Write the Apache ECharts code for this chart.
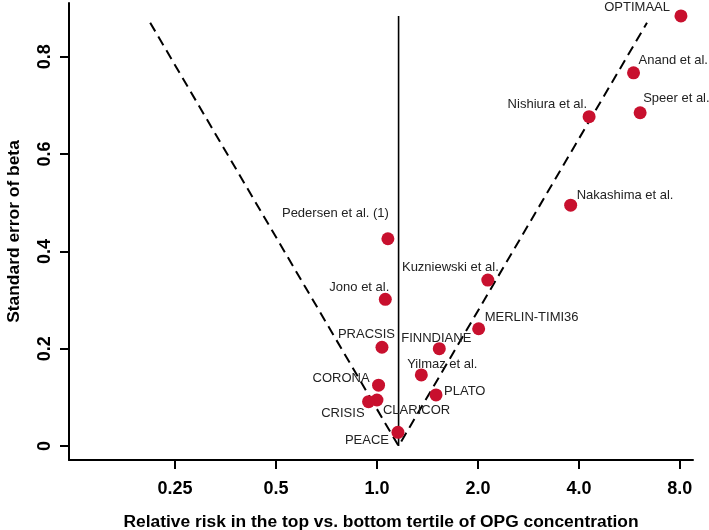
<!DOCTYPE html>
<html>
<head>
<meta charset="utf-8">
<script src="https://cdn.jsdelivr.net/npm/echarts@6/dist/echarts.min.js"></script>
<style>html,body{margin:0;padding:0;background:#fff}#c{width:709px;height:530px}</style>
</head>
<body>
<div id="c"></div>
<script>
// ---- data ----
var studies = ['OPTIMAAL','Anand et al.','Speer et al.','Nishiura et al.','Nakashima et al.',
  'Pedersen et al. (1)','Kuzniewski et al.','Jono et al.','MERLIN-TIMI36','PRACSIS','FINNDIANE',
  'Yilmaz et al.','CORONA','PLATO','CLARICOR','CRISIS','PEACE'];
var relativeRisk = [8.06, 5.82, 6.09, 4.29, 3.78, 1.078, 2.14, 1.059, 2.01, 1.035, 1.534, 1.356, 1.011, 1.50, 1.00, 0.944, 1.155];
var standardError = [0.884, 0.767, 0.685, 0.677, 0.495, 0.426, 0.341, 0.3015, 0.241, 0.203, 0.200, 0.146, 0.125, 0.105, 0.0945, 0.091, 0.028];
var pooledRR = 1.16;
var funnelMaxSE = 0.87;
var centerLineTopSE = 0.884;
var xTickValues = [0.25, 0.5, 1.0, 2.0, 4.0, 8.0];
var xTickLabels = ['0.25', '0.5', '1.0', '2.0', '4.0', '8.0'];
var yTickValues = [0, 0.2, 0.4, 0.6, 0.8];
var yTickLabels = ['0', '0.2', '0.4', '0.6', '0.8'];

// ---- label layout (offset from point centre, px) ----
var labelLayout = [
  [-11,-9,'right'], [5,-12,'left'], [3,-14,'left'], [-2,-12,'right'], [6,-10,'left'],
  [1,-25,'right'], [11,-13,'right'], [4,-12,'right'], [6,-11,'left'], [13,-13,'right'],
  [-3,-10,'center'], [21,-11,'center'], [-9,-7,'right'], [8,-3,'left'], [6,10,'left'],
  [-4,12,'right'], [-9,8,'right']
];

var FONT = '"Liberation Sans", Arial, Helvetica, sans-serif';
var SYM = 13;
var l2 = function (v) { return Math.log(v) / Math.LN2; };
var xTickPos = xTickValues.map(l2);
var labelMap = {};
xTickPos.forEach(function (p, i) { labelMap[p.toFixed(4)] = xTickLabels[i]; });
var yLabelMap = {};
yTickValues.forEach(function (v, i) { yLabelMap[v.toFixed(4)] = yTickLabels[i]; });

var c = l2(pooledRR);
var half = 1.96 * funnelMaxSE / Math.LN2;
var funnel = [[c - half, funnelMaxSE], [c, 0], [c + half, funnelMaxSE]];

var points = studies.map(function (s, i) {
  var L = labelLayout[i];
  return {
    name: s,
    value: [l2(relativeRisk[i]), standardError[i]],
    label: { show: true, position: [SYM / 2 + L[0], SYM / 2 + L[1]], align: L[2], verticalAlign: 'middle' }
  };
});

var chart = echarts.init(document.getElementById('c'), null, { renderer: 'canvas' });
chart.setOption({
  animation: false,
  backgroundColor: '#fff',
  grid: { left: 69, right: 16, top: 3, bottom: 70, containLabel: false, outerBoundsMode: 'none' },
  xAxis: {
    type: 'value', min: -3.05, max: 3.13,
    name: 'Relative risk in the top vs. bottom tertile of OPG concentration',
    nameLocation: 'middle', nameGap: 54,
    nameTextStyle: { fontFamily: FONT, fontWeight: 'bold', fontSize: 17.4, color: '#000' },
    axisLine: { show: true, onZero: false, lineStyle: { color: '#000', width: 2 } },
    axisTick: { show: true, length: 9, lineStyle: { color: '#000', width: 2 }, customValues: xTickPos },
    axisLabel: { fontFamily: FONT, fontWeight: 'bold', fontSize: 18, color: '#000', margin: 20,
      customValues: xTickPos,
      formatter: function (v) { return labelMap[v.toFixed(4)] || ''; } },
    splitLine: { show: false }
  },
  yAxis: {
    type: 'value', min: -0.0288, max: 0.9106,
    name: 'Standard error of beta',
    nameLocation: 'middle', nameGap: 46,
    nameTextStyle: { fontFamily: FONT, fontWeight: 'bold', fontSize: 17.4, color: '#000' },
    axisLine: { show: true, onZero: false, lineStyle: { color: '#000', width: 2 } },
    axisTick: { show: true, length: 9, lineStyle: { color: '#000', width: 2 }, customValues: yTickValues },
    axisLabel: { fontFamily: FONT, fontWeight: 'bold', fontSize: 18, color: '#000', margin: 15, rotate: 90,
      customValues: yTickValues,
      formatter: function (v) { return yLabelMap[v.toFixed(4)] || ''; } },
    splitLine: { show: false }
  },
  series: [
    {
      type: 'line', data: funnel, symbol: 'none', silent: true,
      lineStyle: { color: '#000', width: 2, type: [10, 6] }, z: 2
    },
    {
      type: 'line', data: [[c, 0], [c, centerLineTopSE]], symbol: 'none', silent: true,
      lineStyle: { color: '#000', width: 1.6 }, z: 2
    },
    {
      type: 'scatter', data: points, symbol: 'circle', symbolSize: SYM, z: 3,
      itemStyle: { color: '#C8102E', opacity: 1 },
      label: { show: true, formatter: '{b}', fontFamily: FONT, fontSize: 13, color: '#222' }
    }
  ]
});
</script>
</body>
</html>
